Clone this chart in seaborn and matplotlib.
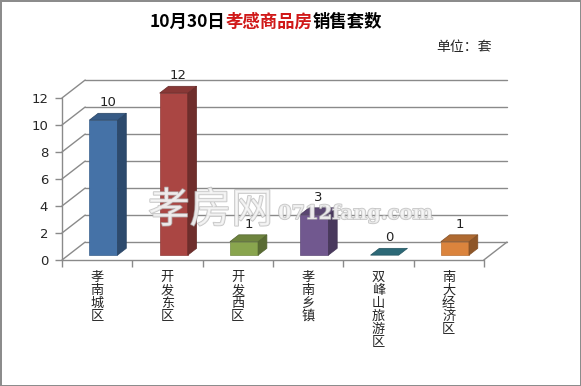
import numpy as np
import pandas as pd
import seaborn as sns
import matplotlib.pyplot as plt
import matplotlib.colors as mcolors
from matplotlib.patches import Polygon
import matplotlib.patheffects as pe

# chart data
categories = ['孝南城区', '开发东区', '开发西区', '孝南乡镇', '双峰山旅游区', '南大经济区']
sales = [10, 12, 1, 3, 0, 1]
bar_colors = ['#4572A7', '#AA4643', '#89A54E', '#71588F', '#3A8C9E', '#DB843D']
y_ticks = [0, 2, 4, 6, 8, 10, 12]

sns.set_style('white')
plt.rcParams['font.family'] = ['Noto Sans CJK SC', 'DejaVu Sans']

df = pd.DataFrame({'area': categories, 'sales': sales})

# fake 3D depth (in data units)
dx, dy = 0.33, 1.33     # full depth of the floor
z0, dz = 0.27, 0.38     # bar position / thickness within depth
bar_w = 0.4
sx, sy = z0 * dx, z0 * dy

fig = plt.figure(figsize=(5.81, 3.86), dpi=100)
fig.patch.set_edgecolor('#8c8c8c')
fig.patch.set_linewidth(2)
ax = fig.add_axes([62 / 581, 126 / 386, 445 / 581, 180 / 386])

sns.barplot(data=df, x='area', y='sales', hue='area', palette=bar_colors,
            width=bar_w, legend=False, ax=ax, saturation=1, zorder=3)

grid_c = '#8a8a8a'
x0, x1 = -0.5, len(categories) - 0.5
# back wall gridlines and left wall diagonals
for v in y_ticks:
    ax.plot([x0 + dx, x1 + dx], [v + dy, v + dy], color=grid_c, lw=1, zorder=1, clip_on=False)
    ax.plot([x0, x0 + dx], [v, v + dy], color=grid_c, lw=1, zorder=1, clip_on=False)
# floor front edge, right diagonal and y axis line
ax.plot([x0, x1], [0, 0], color=grid_c, lw=1, zorder=2, clip_on=False)
ax.plot([x1, x1 + dx], [0, dy], color=grid_c, lw=1, zorder=2, clip_on=False)
ax.plot([x0, x0], [0, max(y_ticks)], color=grid_c, lw=1, zorder=2, clip_on=False)


def shade(c, f):
    r, g, b = mcolors.to_rgb(c)
    return (r * f, g * f, b * f)


# shift front faces back into the floor and add side/top faces
for i, (p, v) in enumerate(zip(ax.patches, sales)):
    col = bar_colors[i]
    p.set_x(p.get_x() + sx)
    p.set_y(sy)
    p.set_height(v)
    p.set_edgecolor(shade(col, 0.85))
    p.set_linewidth(0.5)
    if v == 0:
        p.set_visible(False)
    xl, xr = p.get_x(), p.get_x() + bar_w
    yb, yt = sy, sy + v
    ddx, ddy = dz * dx, dz * dy
    side = Polygon([(xr, yb), (xr + ddx, yb + ddy), (xr + ddx, yt + ddy), (xr, yt)],
                   closed=True, fc=shade(col, 0.65), ec=shade(col, 0.6), lw=0.5, zorder=3)
    top = Polygon([(xl, yt), (xl + ddx, yt + ddy), (xr + ddx, yt + ddy), (xr, yt)],
                  closed=True, fc=shade(col, 0.8 if v else 0.75), ec=shade(col, 0.6), lw=0.5, zorder=3)
    if v > 0:
        ax.add_patch(side)
    ax.add_patch(top)
    ax.annotate(str(v), (xl + (bar_w + ddx) / 2, yt + ddy), xytext=(0, 3),
                textcoords='offset points', ha='center', va='bottom',
                fontsize=9.5, family=['DejaVu Sans'], color='#222222', zorder=6,
                annotation_clip=False)

ax.set_xlim(x0, x1 + dx)
ax.set_ylim(0, max(y_ticks) + dy)
for s in ax.spines.values():
    s.set_visible(False)

ax.set_yticks(y_ticks)
ax.set_yticklabels([str(t) for t in y_ticks], fontsize=9.5, family=['DejaVu Sans'])
ax.tick_params(axis='y', left=True, length=5, width=1, color=grid_c, pad=5)

ax.set_xticks(range(len(categories)))
ax.set_xticklabels(['\n'.join(c) for c in categories], fontsize=9.5, linespacing=1.0,
                   va='top')
ax.set_xticks(np.arange(len(categories) + 1) - 0.5, minor=True)
ax.tick_params(axis='x', which='major', length=0, pad=8)
ax.tick_params(axis='x', which='minor', bottom=True, length=5, width=1, color=grid_c)
ax.set_xlabel('')
ax.set_ylabel('')

# title with coloured middle part
title_parts = [('10月30日', 'black'), ('孝感商品房', '#D01818'), ('销售套数', 'black')]
renderer = fig.canvas.get_renderer()
tx = 150 / 581
for txt, col in title_parts:
    t = fig.text(tx, 1 - 22 / 386, txt, color=col, fontsize=12.5, fontweight='bold',
                 ha='left', va='center')
    bb = t.get_window_extent(renderer=renderer)
    tx = bb.x1 / fig.bbox.width

fig.text(436 / 581, 1 - 47 / 386, '单位：套', fontsize=10, ha='left', va='center')

# site watermark
wm_fx = [pe.withStroke(linewidth=1.2, foreground='#b4b4b4')]
fig.text(148 / 581, 1 - 211 / 386, '孝房网', fontsize=30, color='#f6f6f6', alpha=0.75,
         ha='left', va='center', path_effects=wm_fx, zorder=10)
fig.text(278 / 581, 1 - 214 / 386, '0712fang.com', fontsize=14, color='#f6f6f6', alpha=0.75,
         family=['DejaVu Serif'], fontweight='bold', ha='left', va='center',
         path_effects=wm_fx, zorder=10)

fig.savefig('out.png', dpi=100, facecolor='white', edgecolor=fig.patch.get_edgecolor())
